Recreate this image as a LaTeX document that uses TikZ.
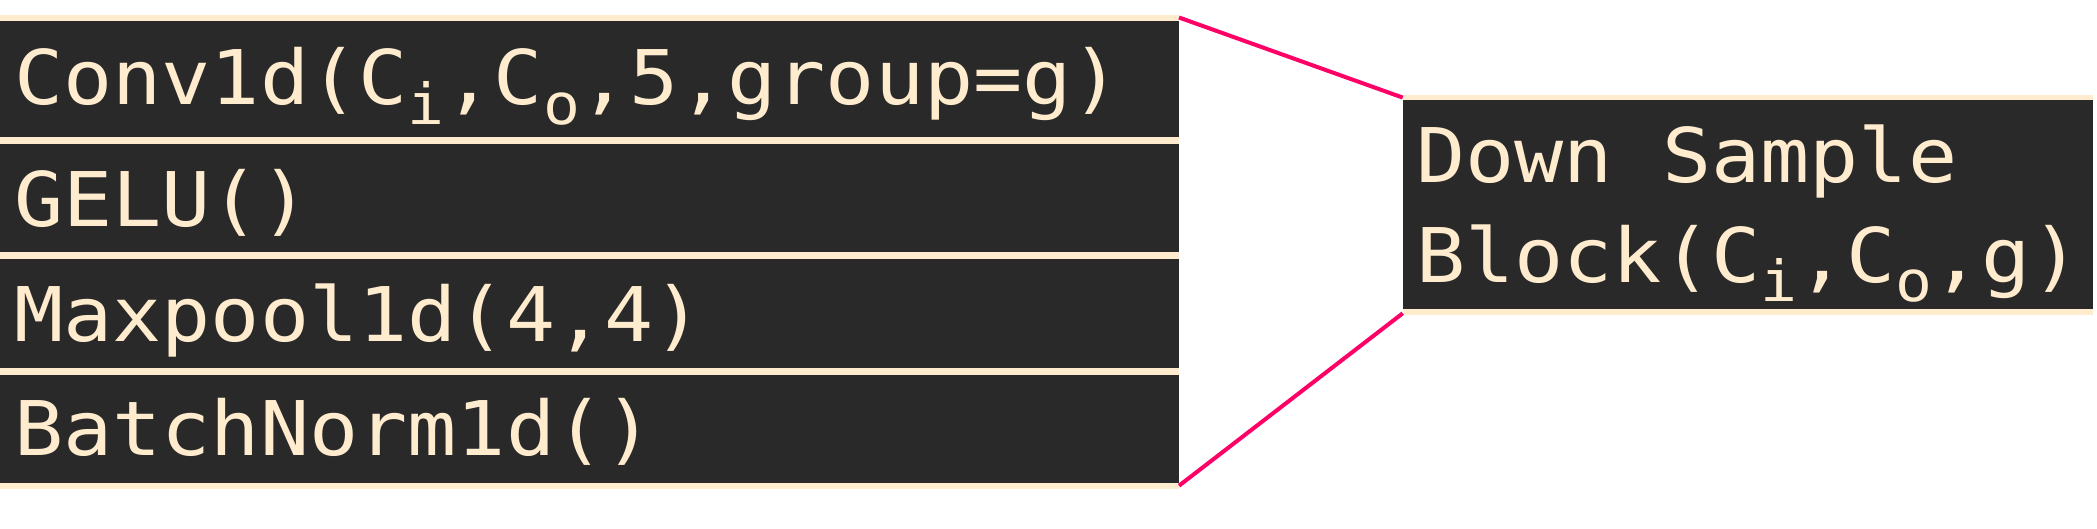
\documentclass[tikz,border=0pt]{standalone}
\usepackage{fontspec}
\newfontfamily\monof[FakeStretch=1.084]{DejaVu Sans Mono}
\definecolor{dark}{HTML}{292929}
\definecolor{cream}{HTML}{FFEBCD}
\definecolor{pinkline}{HTML}{FF0066}
\newcommand\subsc[1]{\raisebox{-9.75pt}{\fontsize{28.3pt}{30pt}\selectfont #1}}
\begin{document}
\begin{tikzpicture}[x=0.5pt,y=-0.5pt,
  band/.style={rectangle, fill=cream, inner sep=0pt, outer sep=0pt, anchor=north west},
  cell/.style={rectangle, fill=dark, inner sep=0pt, outer sep=0pt, anchor=north west},
  txt/.style={text=cream, inner sep=0pt, outer sep=0pt, anchor=base west, font=\monof\fontsize{37.7pt}{50pt}\selectfont},
  link/.style={draw=pinkline, line width=2pt}]
\useasboundingbox[fill=white] (0,0) rectangle (2097,529);
% left stack
\node[band, minimum width=589.5pt, minimum height=236.5pt] (stack) at (0,15.5) {};
\node[cell, minimum width=589.5pt, minimum height=58pt] (r1) at (0,21) {};
\node[cell, minimum width=589.5pt, minimum height=54pt] (r2) at (0,144) {};
\node[cell, minimum width=589.5pt, minimum height=54.5pt] (r3) at (0,259) {};
\node[cell, minimum width=589.5pt, minimum height=54pt] (r4) at (0,374.5) {};
% right block
\node[band, minimum width=345.15pt, minimum height=110pt] (blkbg) at (1402.7,95) {};
\node[cell, minimum width=345.15pt, minimum height=104.6pt] (blk) at (1402.7,100) {};
% texts
\node[txt] (t1) at (14,105) {Conv1d(C\subsc{i},C\subsc{o},5,group=g)};
\node[txt] (t2) at (14,227) {GELU()};
\node[txt] (t3) at (14,341) {Maxpool1d(4,4)};
\node[txt] (t4) at (14,455.5) {BatchNorm1d()};
\node[txt] (t5) at (1416,182.7) {Down Sample};
\node[txt] (t6) at (1416,282.3) {Block(C\subsc{i},C\subsc{o},g)};
% connectors
\draw[link] ([yshift=-1pt]stack.north east) -- ([yshift=-1.3pt]blkbg.north west);
\draw[link] ([yshift=1.4pt]stack.south east) -- ([yshift=0.85pt]blkbg.south west);
\end{tikzpicture}
\end{document}
